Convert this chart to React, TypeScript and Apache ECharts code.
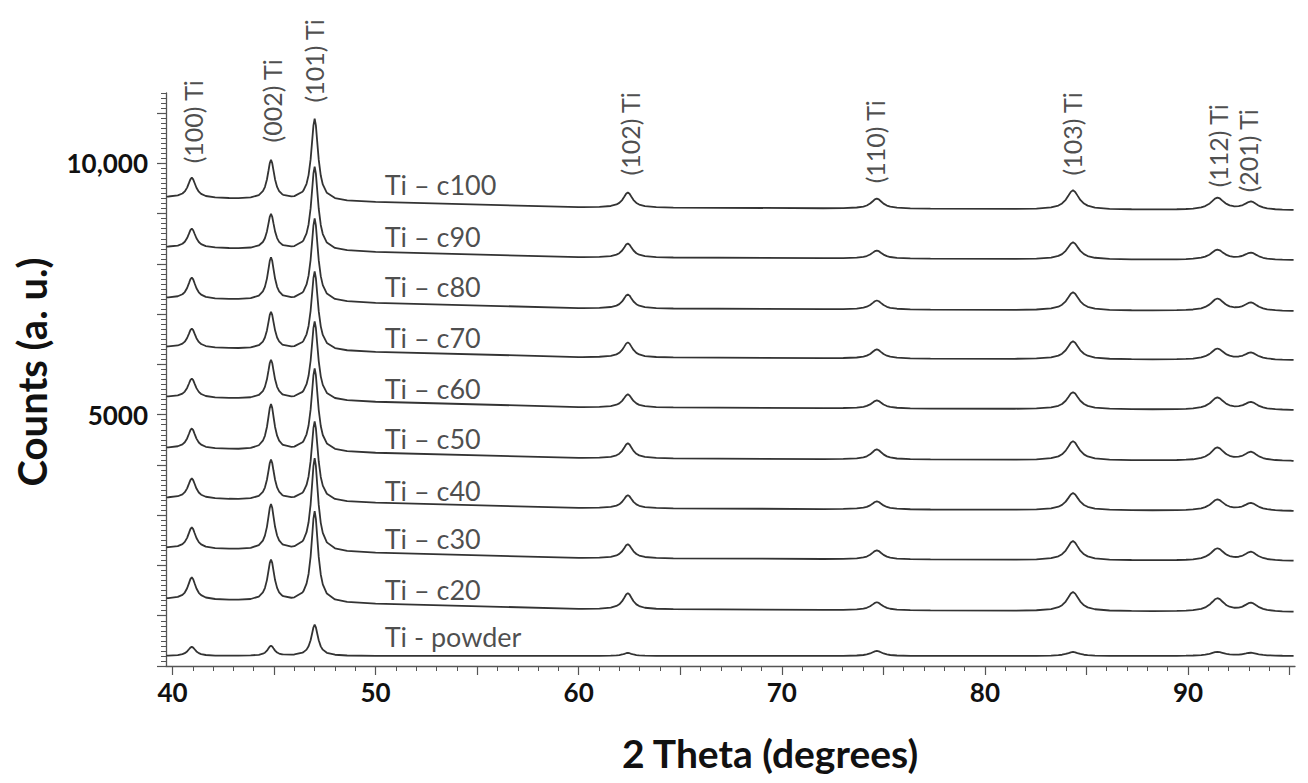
import React, { useEffect, useRef } from "react";
import * as echarts from "echarts";

// ---- Data ----
const SERIES_NAMES = [
  "Ti – c100", "Ti – c90", "Ti – c80", "Ti – c70", "Ti – c60",
  "Ti – c50", "Ti – c40", "Ti – c30", "Ti – c20", "Ti - powder",
];
// counts of each pattern's background at the left edge (stack offsets)
const BASE_LEVELS = [9324, 8330, 7316, 6342, 5348, 4334, 3340, 2346, 1332, 199];

// reflection positions (2θ) and half widths at half maximum
const PEAK_NAMES = ["(100) Ti", "(002) Ti", "(101) Ti", "(102) Ti", "(110) Ti", "(103) Ti", "(112) Ti", "(201) Ti"];
const PEAK_POS = [40.95, 44.85, 47.0, 62.42, 74.68, 84.34, 91.45, 93.1];
const PEAK_HWHM = [0.23, 0.2, 0.2, 0.28, 0.33, 0.36, 0.4, 0.4];

// peak heights above background, per pattern
const H_C100 = [400, 780, 1630, 300, 200, 380, 240, 160];
const H_C90 = [380, 700, 1670, 280, 160, 340, 200, 140];
const H_C80 = [420, 850, 1650, 280, 180, 360, 240, 160];
const H_C70 = [380, 740, 1570, 300, 180, 360, 220, 140];
const H_C60 = [380, 780, 1570, 260, 160, 340, 240, 150];
const H_C50 = [400, 910, 1650, 300, 200, 380, 260, 170];
const H_C40 = [400, 800, 1590, 260, 160, 340, 220, 150];
const H_C30 = [420, 910, 1850, 280, 180, 380, 240, 170];
const H_C20 = [440, 820, 1810, 320, 160, 380, 260, 170];
const H_POWDER = [180, 200, 620, 60, 100, 80, 80, 60];
const HEIGHTS = [H_C100, H_C90, H_C80, H_C70, H_C60, H_C50, H_C40, H_C30, H_C20, H_POWDER];

// background drift (counts relative to left edge)
const BG_X = [39.7, 50, 60, 95.2];
const BG_COATING = [0, -100, -200, -260];
const BG_POWDER = [0, 0, 0, 0];

// sample label positions
const SERIES_LABEL_X = 50.45;
const SERIES_LABEL_Y = [9583, 8549, 7555, 6541, 5527, 4533, 3499, 2545, 1531, 596];

// reflection label anchors (bottom end of the rotated text)
const PEAK_LABEL_X = [41.0, 44.9, 46.97, 62.53, 74.59, 84.29, 91.48, 92.96];
const PEAK_LABEL_Y = [10000, 10417, 11213, 9761, 9602, 9761, 9523, 9423];

// axes
const X_MIN = 39.68;
const X_MAX = 95.27;
const Y_MIN = 0;
const Y_MAX = 11400;
const X_LABELS = [40, 50, 60, 70, 80, 90];
const Y_LABELS = [5000, 10000];
const Y_LABEL_TEXT = ["5000", "10,000"];

// sampling offsets (in HWHM units) around each reflection
const OFFSETS = [-8, -5, -3, -2, -1.5, -1, -0.6, -0.3, 0, 0.3, 0.6, 1, 1.5, 2, 3, 5, 8];

function bgAt(x: number, bg: number[]) {
  for (let i = 0; i < BG_X.length - 1; i++) {
    if (x <= BG_X[i + 1]) {
      const f = (x - BG_X[i]) / (BG_X[i + 1] - BG_X[i]);
      return bg[i] + f * (bg[i + 1] - bg[i]);
    }
  }
  return bg[bg.length - 1];
}

function buildCurve(level: number, heights: number[], bg: number[]) {
  const xsSet = new Set<number>(BG_X);
  PEAK_POS.forEach((p, i) =>
    OFFSETS.forEach((t) => xsSet.add(+(p + t * PEAK_HWHM[i]).toFixed(3)))
  );
  const xs = Array.from(xsSet)
    .filter((x) => x >= BG_X[0] && x <= BG_X[BG_X.length - 1])
    .sort((a, b) => a - b);
  return xs.map((x) => {
    let y = level + bgAt(x, bg);
    PEAK_POS.forEach((p, i) => {
      const u = (x - p) / PEAK_HWHM[i];
      y += heights[i] / (1 + u * u);
    });
    return [x, Math.round(y)];
  });
}

const X_MAJOR_TICKS: number[] = [];
for (let v = 40; v <= 95; v += 5) X_MAJOR_TICKS.push(v);
const X_MINOR_TICKS: number[] = [];
for (let v = 40; v <= 95; v += 1) X_MINOR_TICKS.push(v);
const Y_MAJOR_TICKS: number[] = [];
for (let v = 0; v <= 11000; v += 1000) Y_MAJOR_TICKS.push(v);
const Y_MINOR_TICKS: number[] = [];
for (let v = 0; v <= 11400; v += 100) Y_MINOR_TICKS.push(v);

const AXIS_COLOR = "#555";
const TEXT_COLOR = "#111";
const FONT = "Lato";

export default function App() {
  const ref = useRef<HTMLDivElement>(null);
  useEffect(() => {
    if (!ref.current) return;
    const chart = echarts.init(ref.current, undefined, { renderer: "svg" });

    const lineSeries = SERIES_NAMES.map((name, i) => ({
      type: "line",
      name,
      xAxisIndex: 0,
      yAxisIndex: 0,
      data: buildCurve(BASE_LEVELS[i], HEIGHTS[i], i === SERIES_NAMES.length - 1 ? BG_POWDER : BG_COATING),
      showSymbol: false,
      symbol: "none",
      lineStyle: { color: "#333333", width: 1.8 },
      silent: true,
    }));

    const option: any = {
      animation: false,
      backgroundColor: "#ffffff",
      grid: { left: 166, right: 13, top: 93, bottom: 117, containLabel: false },
      xAxis: [
        {
          type: "value",
          min: X_MIN,
          max: X_MAX,
          axisLine: { show: true, lineStyle: { color: AXIS_COLOR, width: 1.3 } },
          axisTick: { show: true, customValues: X_MAJOR_TICKS, length: 9, lineStyle: { color: AXIS_COLOR, width: 1.2 } },
          axisLabel: {
            customValues: X_LABELS,
            fontFamily: FONT,
            fontWeight: "bold",
            fontSize: 26,
            color: TEXT_COLOR,
            margin: 13,
          },
          splitLine: { show: false },
        },
        {
          type: "value",
          min: X_MIN,
          max: X_MAX,
          position: "bottom",
          axisLine: { show: false },
          axisTick: { show: true, customValues: X_MINOR_TICKS, length: 5, lineStyle: { color: AXIS_COLOR, width: 1 } },
          axisLabel: { show: false },
          splitLine: { show: false },
        },
      ],
      yAxis: [
        {
          type: "value",
          min: Y_MIN,
          max: Y_MAX,
          axisLine: { show: true, lineStyle: { color: AXIS_COLOR, width: 1.3 } },
          axisTick: { show: true, customValues: Y_MAJOR_TICKS, length: 9, lineStyle: { color: AXIS_COLOR, width: 1.2 } },
          axisLabel: {
            customValues: Y_LABELS,
            formatter: (v: number) => Y_LABEL_TEXT[Y_LABELS.indexOf(v)] ?? String(v),
            fontFamily: FONT,
            fontWeight: "bold",
            fontSize: 26,
            color: TEXT_COLOR,
            margin: 18,
          },
          splitLine: { show: false },
        },
        {
          type: "value",
          min: Y_MIN,
          max: Y_MAX,
          position: "left",
          axisLine: { show: false },
          axisTick: { show: true, customValues: Y_MINOR_TICKS, length: 5, lineStyle: { color: AXIS_COLOR, width: 1 } },
          axisLabel: { show: false },
          splitLine: { show: false },
        },
      ],
      graphic: [
        {
          type: "text",
          x: 32,
          y: 372,
          rotation: Math.PI / 2,
          style: {
            text: "Counts (a. u.)",
            fontFamily: FONT,
            fontWeight: "bold",
            fontSize: 40,
            fill: TEXT_COLOR,
            align: "center",
            verticalAlign: "middle",
          },
        },
        {
          type: "text",
          x: 770,
          y: 753,
          style: {
            text: "2 Theta (degrees)",
            fontFamily: FONT,
            fontWeight: "bold",
            fontSize: 39,
            fill: TEXT_COLOR,
            align: "center",
            verticalAlign: "middle",
          },
        },
      ],
      series: [
        ...lineSeries,
        {
          type: "scatter",
          name: "sample labels",
          xAxisIndex: 0,
          yAxisIndex: 0,
          symbolSize: 1,
          itemStyle: { color: "transparent" },
          silent: true,
          data: SERIES_LABEL_Y.map((y, i) => [SERIES_LABEL_X, y, SERIES_NAMES[i]]),
          label: {
            show: true,
            position: "inside",
            align: "left",
            verticalAlign: "middle",
            formatter: (p: any) => p.data[2],
            fontFamily: FONT,
            fontSize: 27,
            color: "#1e1e1e",
          },
        },
        {
          type: "scatter",
          name: "reflection labels",
          xAxisIndex: 0,
          yAxisIndex: 0,
          symbolSize: 1,
          itemStyle: { color: "transparent" },
          silent: true,
          data: PEAK_LABEL_X.map((x, i) => [x, PEAK_LABEL_Y[i], PEAK_NAMES[i]]),
          label: {
            show: true,
            position: "inside",
            align: "left",
            verticalAlign: "middle",
            rotate: 90,
            formatter: (p: any) => p.data[2],
            fontFamily: FONT,
            fontSize: 25,
            color: "#1e1e1e",
          },
        },
      ],
    };
    chart.setOption(option);
    return () => chart.dispose();
  }, []);

  return (
    <div
      ref={ref}
      style={{ position: "fixed", left: 0, top: 0, width: 1308, height: 783, background: "#fff" }}
    />
  );
}
